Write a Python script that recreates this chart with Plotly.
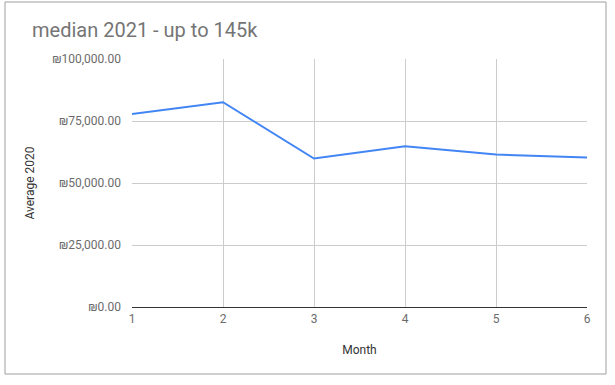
import plotly.graph_objects as go

months = [1, 2, 3, 4, 5, 6]
average_2020 = [77850, 82560, 59850, 64840, 61460, 60250]
y_ticks = [0, 25000, 50000, 75000, 100000]
y_tick_labels = ["₪0.00", "₪25,000.00", "₪50,000.00", "₪75,000.00", "₪100,000.00"]
title_text = "median 2021 - up to 145k"
x_title = "Month"
y_title = "Average 2020"

L, R, T, B = 132, 28, 59, 78
W, H = 615, 385
pw, ph = W - L - R, H - T - B

def px_x(p):
    return (p - L) / pw

def px_y(p):
    return (H - B - p) / ph

FONT = "Roboto, 'DejaVu Sans', Arial, sans-serif"

fig = go.Figure()
fig.add_trace(go.Scatter(
    x=months, y=average_2020, mode="lines",
    line=dict(color="#4285F4", width=2),
    hoverinfo="x+y",
))

fig.update_layout(
    width=W, height=H,
    margin=dict(l=L, r=R, t=T, b=B),
    paper_bgcolor="white", plot_bgcolor="white",
    font=dict(family=FONT, size=12, color="#6b6b6b"),
    showlegend=False,
    title=dict(text=title_text, x=32 / W, xanchor="left", y=1 - 30 / H, yanchor="middle",
               font=dict(size=20, color="#757575", family=FONT)),
    xaxis=dict(
        range=[1, 6], tickvals=months, ticktext=[str(m) for m in months],
        showgrid=True, gridcolor="#cccccc", gridwidth=1,
        zeroline=False, showline=False, ticks="", ticklabelstandoff=3,
        tickfont=dict(size=12, color="#6b6b6b"),
        title=dict(text=x_title, standoff=20, font=dict(size=12, color="#333333")),
    ),
    yaxis=dict(
        range=[0, 100000], tickvals=y_ticks, ticktext=y_tick_labels,
        showgrid=True, gridcolor="#cccccc", gridwidth=1,
        zeroline=True, zerolinecolor="#333333", zerolinewidth=1,
        showline=False, ticks="", ticklabelstandoff=10,
        tickfont=dict(size=12, color="#6b6b6b"),
        title=dict(text=y_title, standoff=15, font=dict(size=12, color="#333333")),
    ),
    shapes=[dict(
        type="rect", xref="paper", yref="paper",
        x0=px_x(5), x1=px_x(606), y0=px_y(2), y1=px_y(374),
        line=dict(color="#9e9e9e", width=1), fillcolor="rgba(0,0,0,0)", layer="below",
    )],
)

fig.write_html("out.html", config={"displayModeBar": False},
               post_script="document.body.style.margin='0px';")
